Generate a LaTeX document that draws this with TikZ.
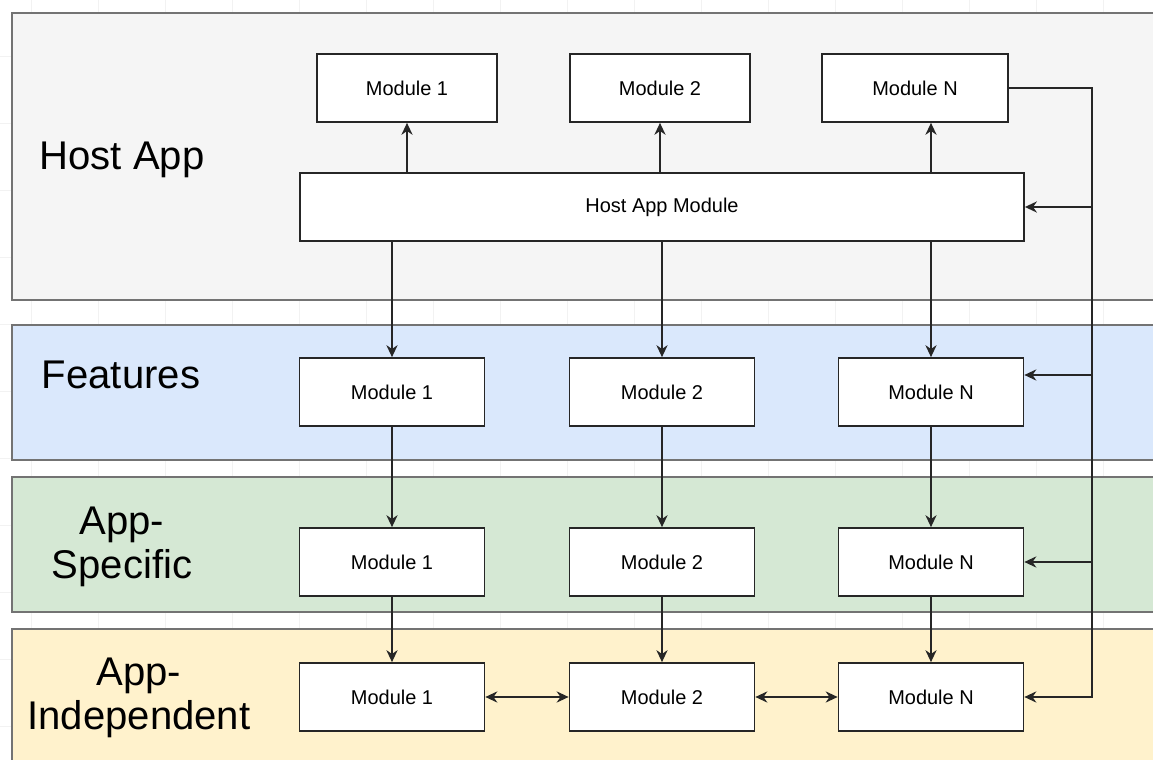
\documentclass[tikz,border=0pt]{standalone}
\usepackage{fontspec}
\setmainfont{Liberation Sans}
\usetikzlibrary{arrows.meta}

\definecolor{hostfill}{HTML}{F5F5F5}
\definecolor{featfill}{HTML}{DAE8FC}
\definecolor{specfill}{HTML}{D5E8D4}
\definecolor{indepfill}{HTML}{FFF2CC}

\begin{document}
\begin{tikzpicture}[
	x=0.025cm, y=-0.025cm,
	gridline/.style={
		draw=black!5,
		line width=0.5pt
	},
	band/.style={
		draw=black!55,
		line width=1pt
	},
	module/.style={
		rectangle,
		draw=black!85,
		line width=1.2pt,
		fill=white,
		align=center,
		minimum height=1.7cm,
		minimum width=4.625cm,
		font=\fontsize{14.2}{17}\selectfont
	},
	title/.style={
		align=center,
		font=\fontsize{28.5}{31.5}\selectfont
	},
	link/.style={
		-{Stealth[length=0.3cm,width=0.28cm]},
		line width=1.2pt,
		draw=black!85
	},
	twoway/.style={
		link,
		{Stealth[length=0.3cm,width=0.28cm]}-{Stealth[length=0.3cm,width=0.28cm]}
	},
]

\useasboundingbox (0,0) rectangle (1153,760);
\clip (0,0) rectangle (1153,760);

% Background grid
\foreach \x in {31,98,...,1153}
	\draw[gridline] (\x,0) -- (\x,760);
\foreach \y in {56,123,...,760}
	\draw[gridline] (0,\y) -- (1153,\y);

% Layers
\draw[band, fill=hostfill] (12,13) rectangle (1180,300);
\draw[band, fill=featfill] (12,325) rectangle (1180,460);
\draw[band, fill=specfill] (12,477) rectangle (1180,612);
\draw[band, fill=indepfill] (12,629) rectangle (1180,790);

% Layer titles
\node[title, anchor=base] (thost) at (122,170) {Host App};
\node[title, anchor=base] (tfeat) at (121,389) {Features};
\node[title] (tspec) at (122,547) {App-\\Specific};
\node[title] (tindep) at (139,698) {App-\\Independent};

% Host App
\node[module, minimum width=4.5cm] (top1) at (407,88) {Module 1};
\node[module, minimum width=4.5cm] (top2) at (660,88) {Module 2};
\node[module, minimum width=4.65cm] (topN) at (915,88) {Module N};
\node[module, minimum width=18.1cm] (host) at (662,207) {Host App Module};

% Features, App-Specific, App-Independent
\foreach \c/\x in {1/392, 2/662, N/931} {
	\node[module] (feat\c) at (\x,392) {Module \c};
	\node[module] (spec\c) at (\x,562) {Module \c};
	\node[module] (indep\c) at (\x,697) {Module \c};
}

% Host App Module to top row
\draw[link] (top1.south |- host.north) -- (top1.south);
\draw[link] (top2.south |- host.north) -- (top2.south);
\draw[link] (featN.north |- host.north) -- (featN.north |- topN.south);

% Down through the layers
\foreach \c in {1, 2, N} {
	\draw[link] (feat\c.north |- host.south) -- (feat\c.north);
	\draw[link] (feat\c) -- (spec\c);
	\draw[link] (spec\c) -- (indep\c);
}

% App-Independent neighbours
\draw[twoway] (indep1) -- (indep2);
\draw[twoway] (indep2) -- (indepN);

% Right bus
\coordinate (bus) at (1092,88);
\coordinate (featin) at ([yshift=0.425cm]featN.east);
\draw[link] (topN.east) -| (bus |- indepN.east) -- (indepN.east);
\draw[link] (bus |- host.east) -- (host.east);
\draw[link] (bus |- featin) -- (featin);
\draw[link] (bus |- specN.east) -- (specN.east);

\end{tikzpicture}
\end{document}
